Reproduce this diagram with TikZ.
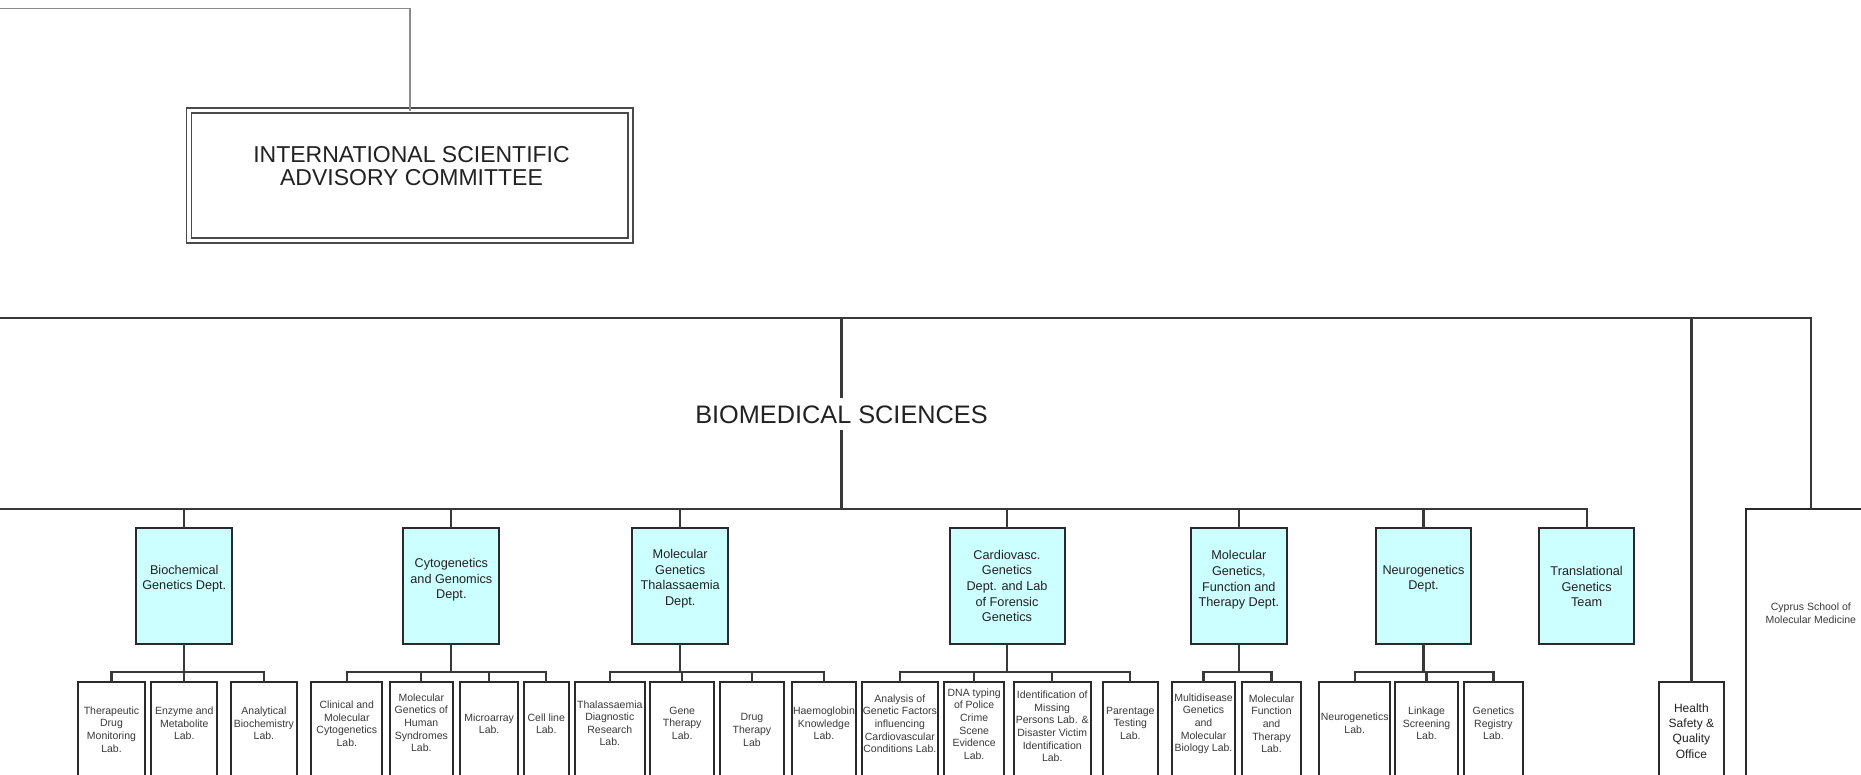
\documentclass[tikz,border=0pt]{standalone}
\usepackage{fontspec}
\setmainfont{Liberation Sans}
\definecolor{linec}{HTML}{383838}
\definecolor{grayc}{HTML}{8C8C8C}
\definecolor{boxc}{HTML}{2A2A2A}
\definecolor{deptc}{HTML}{CCFFFF}
\definecolor{txtc}{HTML}{222222}
\definecolor{labtxt}{HTML}{3A3A3A}
\definecolor{comc}{HTML}{4A4A4A}
\begin{document}
\begin{tikzpicture}[x=1pt,y=-1pt,
  conn/.style={draw=linec, line width=2.2pt},
  topconn/.style={draw=grayc, line width=1.5pt},
  deptbox/.style={draw=boxc, line width=2pt, fill=deptc, minimum height=115.7pt, inner sep=0pt, outer sep=0pt, anchor=north},
  labbox/.style={draw=boxc, line width=2pt, fill=white, minimum height=130pt, inner sep=0pt, outer sep=0pt, anchor=north},
  depttext/.style={font=\fontsize{12.7}{15.6}\selectfont, align=center, inner sep=0pt, text=txtc},
  labtext/.style={font=\fontsize{10.5}{12.6}\selectfont, align=center, inner sep=0pt, text=labtxt},
]
\useasboundingbox (0,0) rectangle (1861,775);
\clip (0,0) rectangle (1861,775);
\fill[white] (0,0) rectangle (1861,775);

% committee
\node[draw=comc, line width=1.6pt, double=white, double distance=3.4pt, minimum width=441.5pt, minimum height=130pt, inner sep=0pt, outer sep=0pt] (com) at (409.75,175.8) {};
\node[font=\fontsize{23}{23.4}\selectfont, align=center, inner sep=0pt, text=txtc] (comt) at (411.5,166) {INTERNATIONAL SCIENTIFIC\\ADVISORY COMMITTEE};
\coordinate (tL) at (0,8.5);
\draw[topconn] (tL) -| (com.north);

% biomedical
\coordinate (mL) at (0,318.3);
\coordinate (bL) at (0,509.3);
\node[font=\fontsize{25.3}{30}\selectfont, inner xsep=0pt, inner ysep=7pt, text height=18.1pt, text depth=0pt, text=txtc] (bio) at (841.5,414.2) {BIOMEDICAL SCIENCES};

% departments
\node[deptbox, minimum width=95.7pt] (d1) at (184.25,528.3) {};
\node[deptbox, minimum width=96.1pt] (d2) at (451.35,528.3) {};
\node[deptbox, minimum width=96.4pt] (d3) at (680.2,528.3) {};
\node[deptbox, minimum width=115pt] (d4) at (1007,528.3) {};
\node[deptbox, minimum width=96.1pt] (d5) at (1238.85,528.3) {};
\node[deptbox, minimum width=94.3pt] (d6) at (1423.45,528.3) {};
\node[deptbox, minimum width=95.2pt] (d7) at (1586.6,528.3) {};
\node[depttext] (d1t) at (184.25,578.8) {Biochemical\\Genetics Dept.};
\node[depttext] (d2t) at (451.35,580) {Cytogenetics\\and Genomics\\Dept.};
\node[depttext] (d3t) at (680.2,578.8) {Molecular\\Genetics\\Thalassaemia\\Dept.};
\node[depttext] (d4t) at (1007,586) {Cardiovasc.\\Genetics\\Dept. and Lab\\of Forensic\\Genetics};
\node[depttext] (d5t) at (1238.85,580) {Molecular\\Genetics,\\Function and\\Therapy Dept.};
\node[depttext] (d6t) at (1423.45,578.8) {Neurogenetics\\Dept.};
\node[depttext] (d7t) at (1586.6,586.7) {Translational\\Genetics\\Team};

% health and cyprus
\node[labbox, minimum width=64.4pt] (hs) at (1691.4,681.7) {};
\node[font=\fontsize{12}{15.2}\selectfont, align=center, inner sep=0pt, text=txtc] (hst) at (1691.4,731) {Health\\Safety \&\\Quality\\Office};
\node[draw=boxc, line width=2pt, fill=white, minimum width=129.8pt, minimum height=320pt, inner sep=0pt, outer sep=0pt, anchor=north] (cy) at (1811.1,509.3) {};
\node[font=\fontsize{10.5}{13.5}\selectfont, align=center, inner sep=0pt, text=labtxt] (cyt) at (1810.8,613) {Cyprus School of\\Molecular Medicine};

% labs
\node[labbox, minimum width=66.4pt] (l1) at (111.5,681.7) {};
\node[labbox, minimum width=65.7pt] (l2) at (184.25,681.7) {};
\node[labbox, minimum width=66.8pt] (l3) at (263.9,681.7) {};
\node[labbox, minimum width=71.2pt] (l4) at (346.8,681.7) {};
\node[labbox, minimum width=63.6pt] (l5) at (421.3,681.7) {};
\node[labbox, minimum width=58.5pt] (l6) at (489.15,681.7) {};
\node[labbox, minimum width=44.7pt] (l7) at (546.25,681.7) {};
\node[labbox, minimum width=69.6pt] (l8) at (609.8,681.7) {};
\node[labbox, minimum width=64pt] (l9) at (682.2,681.7) {};
\node[labbox, minimum width=64.5pt] (l10) at (751.95,681.7) {};
\node[labbox, minimum width=63.7pt] (l11) at (823.95,681.7) {};
\node[labbox, minimum width=76.3pt] (l12) at (899.85,681.7) {};
\node[labbox, minimum width=60.5pt] (l13) at (974.15,681.7) {};
\node[labbox, minimum width=76.7pt] (l14) at (1052.25,681.7) {};
\node[labbox, minimum width=55.7pt] (l15) at (1130.35,681.7) {};
\node[labbox, minimum width=63.4pt] (l16) at (1203.5,681.7) {};
\node[labbox, minimum width=59pt] (l17) at (1271.5,681.7) {};
\node[labbox, minimum width=71.2pt] (l18) at (1354.7,681.7) {};
\node[labbox, minimum width=63.5pt] (l19) at (1426.55,681.7) {};
\node[labbox, minimum width=59.3pt] (l20) at (1493.45,681.7) {};

\node[labtext] (l1t) at (111.5,729.5) {Therapeutic\\Drug\\Monitoring\\Lab.};
\node[labtext] (l2t) at (184.25,723.3) {Enzyme and\\Metabolite\\Lab.};
\node[labtext] (l3t) at (263.9,723.3) {Analytical\\Biochemistry\\Lab.};
\node[labtext] (l4t) at (346.8,723.7) {Clinical and\\Molecular\\Cytogenetics\\Lab.};
\node[labtext] (l5t) at (421.3,722.8) {Molecular\\Genetics of\\Human\\Syndromes\\Lab.};
\node[labtext] (l6t) at (489.15,723.8) {Microarray\\Lab.};
\node[labtext] (l7t) at (546.25,723.8) {Cell line\\Lab.};
\node[labtext] (l8t) at (609.8,723.3) {Thalassaemia\\Diagnostic\\Research\\Lab.};
\node[labtext] (l9t) at (682.2,723.3) {Gene\\Therapy\\Lab.};
\node[labtext] (l10t) at (751.95,730) {Drug\\Therapy\\Lab};
\node[labtext] (l11t) at (823.95,723.3) {Haemoglobin\\Knowledge\\Lab.};
\node[labtext] (l12t) at (899.85,723.7) {Analysis of\\Genetic Factors\\influencing\\Cardiovascular\\Conditions Lab.};
\node[labtext] (l13t) at (974.15,724) {DNA typing\\of Police\\Crime\\Scene\\Evidence\\Lab.};
\node[labtext] (l14t) at (1052.25,726.4) {Identification of\\Missing\\Persons Lab. \&\\Disaster Victim\\Identification\\Lab.};
\node[labtext] (l15t) at (1130.35,723.3) {Parentage\\Testing\\Lab.};
\node[labtext] (l16t) at (1203.5,723.7) {Multidisease\\Genetics\\and\\Molecular\\Biology Lab.};
\node[labtext] (l17t) at (1271.5,723.7) {Molecular\\Function\\and\\Therapy\\Lab.};
\node[labtext] (l18t) at (1354.7,723.3) {Neurogenetics\\Lab.};
\node[labtext] (l19t) at (1426.55,723.3) {Linkage\\Screening\\Lab.};
\node[labtext] (l20t) at (1493.45,723.3) {Genetics\\Registry\\Lab.};

% main connectors
\draw[conn] (mL) -| (cy.north);
\draw[conn] (bio.north |- mL) -- (bio.north);
\draw[conn] (bio.south) -- (bio.south |- bL);
\draw[conn] (hs.north |- mL) -- (hs.north);
\draw[conn] (bL) -| (d7.north);
\foreach \d in {d1,d2,d3,d4,d5,d6}{\draw[conn] (\d.north |- bL) -- (\d.north);}

% lab connectors
\foreach \l in {l1,l2,l3}{\draw[conn] (d1.south) -- ++(0,28.3) -| (\l.north);}
\foreach \l in {l4,l5,l6,l7}{\draw[conn] (d2.south) -- ++(0,28.3) -| (\l.north);}
\foreach \l in {l8,l9,l10,l11}{\draw[conn] (d3.south) -- ++(0,28.3) -| (\l.north);}
\foreach \l in {l12,l13,l14,l15}{\draw[conn] (d4.south) -- ++(0,28.3) -| (\l.north);}
\foreach \l in {l16,l17}{\draw[conn] (d5.south) -- ++(0,28.3) -| (\l.north);}
\foreach \l in {l18,l19,l20}{\draw[conn] (d6.south) -- ++(0,28.3) -| (\l.north);}
\end{tikzpicture}
\end{document}
